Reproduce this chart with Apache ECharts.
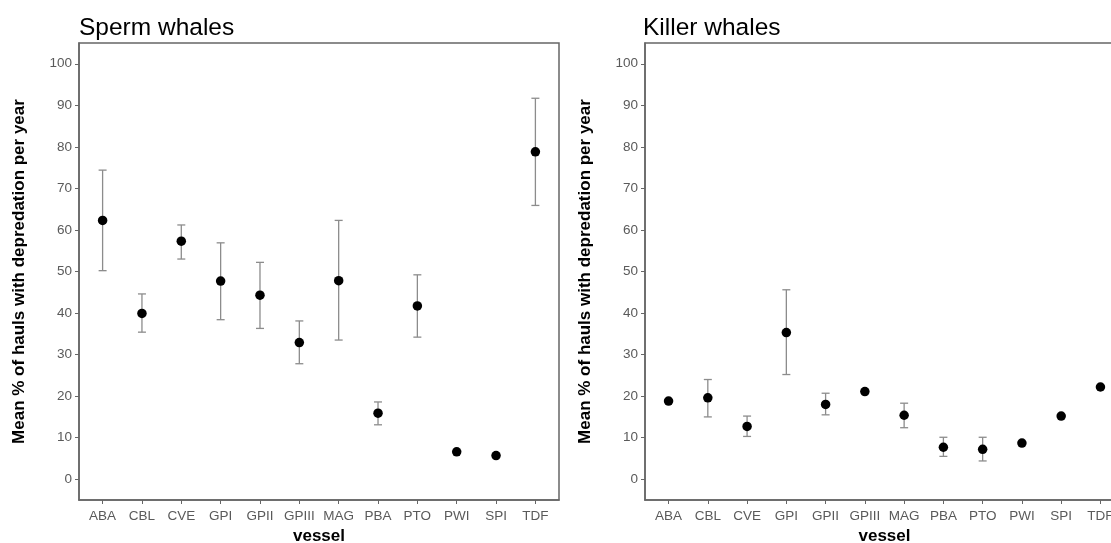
<!DOCTYPE html>
<html>
<head>
<meta charset="utf-8">
<script src="https://cdn.jsdelivr.net/npm/echarts@6/dist/echarts.min.js"></script>
<style>
  html, body { margin: 0; padding: 0; background: #fff; }
  #chart { width: 1111px; height: 543px; }
</style>
</head>
<body>
<div id="chart"></div>
<script>
const vessels = ["ABA", "CBL", "CVE", "GPI", "GPII", "GPIII", "MAG", "PBA", "PTO", "PWI", "SPI", "TDF"];
const yTicks = [0, 10, 20, 30, 40, 50, 60, 70, 80, 90, 100];

// sperm whales: mean and error bar ends
const spermMean = [62.3, 39.9, 57.3, 47.7, 44.3, 32.9, 47.8, 15.9, 41.7, 6.6, 5.7, 78.8];
const spermLow = [50.2, 35.4, 53.0, 38.4, 36.3, 27.8, 33.5, 13.1, 34.2, null, null, 65.9];
const spermHigh = [74.4, 44.6, 61.2, 56.9, 52.2, 38.1, 62.3, 18.6, 49.2, null, null, 91.7];

// killer whales
const killerMean = [18.8, 19.6, 12.7, 35.3, 18.0, 21.1, 15.4, 7.7, 7.2, 8.7, 15.2, 22.2];
const killerLow = [null, 15.0, 10.3, 25.2, 15.5, null, 12.4, 5.5, 4.4, null, null, null];
const killerHigh = [null, 24.0, 15.2, 45.6, 20.7, null, 18.3, 10.1, 10.1, null, null, null];

const font = "'Liberation Sans', Arial, sans-serif";
const tickIdx = vessels.map((v, i) => i);

const chart = echarts.init(document.getElementById("chart"));

function xAxisFor(gridIndex) {
  return {
    type: "value",
    gridIndex: gridIndex,
    min: -0.6,
    max: 11.6,
    splitLine: { show: false },
    axisLine: { show: true, onZero: false, lineStyle: { color: "#666", width: 1.5 } },
    axisTick: { show: true, customValues: tickIdx, length: 4, lineStyle: { color: "#666", width: 1 } },
    axisLabel: {
      customValues: tickIdx,
      formatter: (v) => vessels[Math.round(v)],
      color: "#5a5a5a",
      fontFamily: font,
      fontSize: 13.5,
      margin: 9,
    },
    name: "vessel",
    nameLocation: "middle",
    nameGap: 28,
    nameTextStyle: { fontFamily: font, fontSize: 17, fontWeight: "bold", color: "#000" },
  };
}

function yAxisFor(gridIndex) {
  return {
    type: "value",
    gridIndex: gridIndex,
    min: -5,
    max: 105,
    splitLine: { show: false },
    axisLine: { show: true, onZero: false, lineStyle: { color: "#666", width: 1.5 } },
    axisTick: { show: true, customValues: yTicks, length: 4, lineStyle: { color: "#666", width: 1 } },
    axisLabel: {
      customValues: yTicks,
      color: "#5a5a5a",
      fontFamily: font,
      fontSize: 13.5,
      margin: 7,
    },
    name: "Mean % of hauls with depredation per year",
    nameLocation: "middle",
    nameGap: 51,
    nameTextStyle: { fontFamily: font, fontSize: 17, fontWeight: "bold", color: "#000" },
  };
}

function barData(low, high) {
  const out = [];
  low.forEach((lo, i) => {
    if (lo != null && high[i] != null) out.push([i, lo, high[i]]);
  });
  return out;
}

function errorBars(xAxisIndex, yAxisIndex, data) {
  return {
    type: "custom",
    xAxisIndex: xAxisIndex,
    yAxisIndex: yAxisIndex,
    data: data,
    z: 2,
    renderItem: (params, api) => {
      const x = api.value(0);
      const lo = api.coord([x, api.value(1)]);
      const hi = api.coord([x, api.value(2)]);
      const cap = 4;
      const style = { stroke: "#8c8c8c", lineWidth: 1.3 };
      return {
        type: "group",
        children: [
          { type: "line", shape: { x1: lo[0], y1: lo[1], x2: hi[0], y2: hi[1] }, style: style },
          { type: "line", shape: { x1: hi[0] - cap, y1: hi[1], x2: hi[0] + cap, y2: hi[1] }, style: style },
          { type: "line", shape: { x1: lo[0] - cap, y1: lo[1], x2: lo[0] + cap, y2: lo[1] }, style: style },
        ],
      };
    },
  };
}

function points(xAxisIndex, yAxisIndex, means) {
  return {
    type: "scatter",
    xAxisIndex: xAxisIndex,
    yAxisIndex: yAxisIndex,
    data: means.map((m, i) => [i, m]),
    symbol: "circle",
    symbolSize: 9.5,
    itemStyle: { color: "#000", opacity: 1 },
    z: 3,
  };
}

var titleStyle = { fontFamily: font, fontSize: 24.5, fontWeight: "normal", color: "#000" };

var option = {
  animation: false,
  backgroundColor: "#fff",
  title: [
    { text: "Sperm whales", left: 79, top: 16, padding: 0, textStyle: titleStyle },
    { text: "Killer whales", left: 643, top: 16, padding: 0, textStyle: titleStyle },
  ],
  grid: [
    { left: 79, top: 43, width: 480, height: 457, outerBoundsMode: "none", containLabel: false,
      show: true, borderColor: "#666", borderWidth: 1.5, backgroundColor: "#fff" },
    { left: 645, top: 43, width: 479, height: 457, outerBoundsMode: "none", containLabel: false,
      show: true, borderColor: "#666", borderWidth: 1.5, backgroundColor: "#fff" },
  ],
  xAxis: [xAxisFor(0), xAxisFor(1)],
  yAxis: [yAxisFor(0), yAxisFor(1)],
  series: [
    errorBars(0, 0, barData(spermLow, spermHigh)),
    points(0, 0, spermMean),
    errorBars(1, 1, barData(killerLow, killerHigh)),
    points(1, 1, killerMean),
  ],
};
chart.setOption(option);
</script>
</body>
</html>
